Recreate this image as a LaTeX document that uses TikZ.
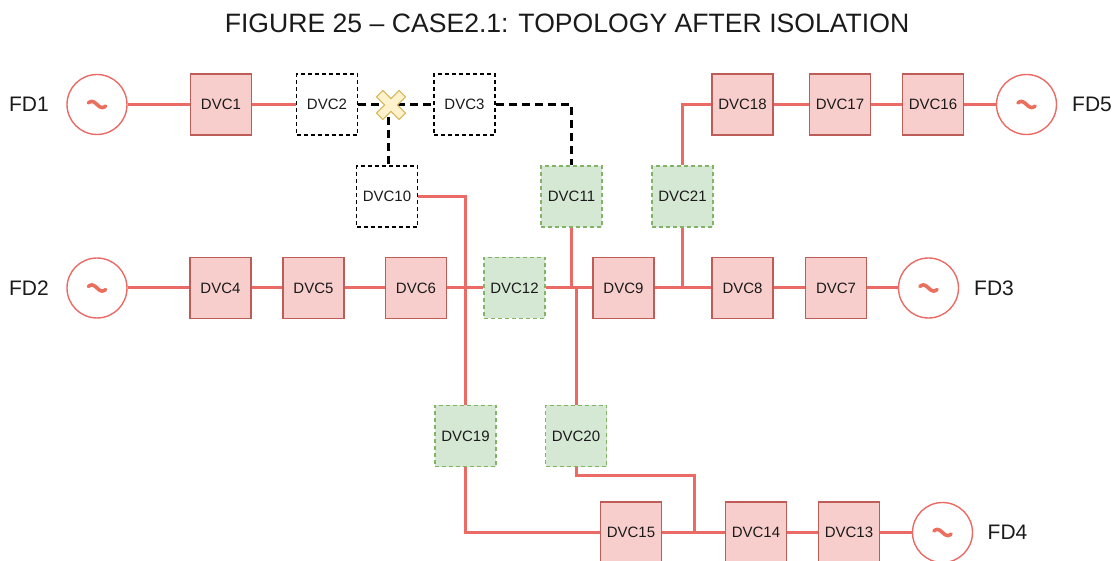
\documentclass[tikz,border=0pt]{standalone}
\usepackage{fontspec}
\setmainfont{Liberation Sans}
\definecolor{redfill}{HTML}{F8CECC}
\definecolor{redstroke}{HTML}{BE5D58}
\definecolor{wire}{HTML}{EA6B66}
\definecolor{greenfill}{HTML}{D5E8D4}
\definecolor{greenstroke}{HTML}{82B366}
\definecolor{xfill}{HTML}{FFF2CC}
\definecolor{xstroke}{HTML}{D6B656}
\definecolor{txt}{HTML}{1A1A1A}
\definecolor{tildecol}{HTML}{EC6F5E}
\tikzset{
  dvc/.style={rectangle, minimum size=61pt, inner sep=0pt, line width=1.5pt,
    font=\fontsize{15}{15}\selectfont, text=txt},
  redbox/.style={dvc, draw=redstroke, fill=redfill},
  greenbox/.style={dvc, draw=greenstroke, fill=greenfill, dash pattern=on 4pt off 3pt},
  openbox/.style={dvc, draw=black, fill=white, dash pattern=on 4pt off 3pt},
  source/.style={circle, draw=wire, fill=white, line width=1.4pt, minimum size=60pt, inner sep=0pt,
    path picture={\draw[tildecol, line width=3.6pt, line cap=round,
      shift={(path picture bounding box.center)}]
      plot[domain=-2.6:2.6, samples=30, smooth] ({\x*3.3}, {3*sin(\x r)});}},
  fdlabel/.style={font=\fontsize{21}{21}\selectfont, text=txt},
  wireline/.style={draw=wire, line width=3pt},
  openline/.style={draw=black, line width=2.6pt, dash pattern=on 8pt off 5pt},
}
\begin{document}
\begin{tikzpicture}[x=1pt,y=-1pt]
\useasboundingbox (0,0) rectangle (1120,561);
\node[font=\fontsize{26.6}{26.6}\selectfont, text=txt] (title) at (567,23) {FIGURE 25 – CASE2.1: TOPOLOGY AFTER ISOLATION};
% row 1
\node[source] (c1) at (97,104.5) {};
\node[fdlabel] (l1) at (29,104.5) {FD1};
\node[redbox] (d1) at (221,104.5) {DVC1};
\node[openbox] (d2) at (327,104.5) {DVC2};
\coordinate (X) at (388.5,104.5);
\node[openbox] (d3) at (464.5,104.5) {DVC3};
\node[openbox] (d10) at (387,196.5) {DVC10};
\node[greenbox] (d11) at (571.5,196.5) {DVC11};
\node[greenbox] (d21) at (682.5,196.5) {DVC21};
\node[redbox] (d18) at (742.5,104.5) {DVC18};
\node[redbox] (d17) at (840,104.5) {DVC17};
\node[redbox] (d16) at (933,104.5) {DVC16};
\node[source] (c5) at (1026.5,104.5) {};
\node[fdlabel] (l5) at (1092,104.5) {FD5};
% row 2
\node[source] (c2) at (97,288) {};
\node[fdlabel] (l2) at (29,288) {FD2};
\node[redbox] (d4) at (220.5,288) {DVC4};
\node[redbox] (d5) at (313.5,288) {DVC5};
\node[redbox] (d6) at (416,288) {DVC6};
\node[greenbox] (d12) at (514.5,288) {DVC12};
\node[redbox] (d9) at (623.5,288) {DVC9};
\node[redbox] (d8) at (742.5,288) {DVC8};
\node[redbox] (d7) at (836,288) {DVC7};
\node[source] (c3) at (928.5,288) {};
\node[fdlabel] (l3) at (994,288) {FD3};
% lower
\node[greenbox] (d19) at (465.5,436) {DVC19};
\node[greenbox] (d20) at (576,436) {DVC20};
\node[redbox] (d15) at (631,532.5) {DVC15};
\node[redbox] (d14) at (756,532.5) {DVC14};
\node[redbox] (d13) at (849,532.5) {DVC13};
\node[source] (c4) at (942.5,532.5) {};
\node[fdlabel] (l4) at (1007.5,532.5) {FD4};
\coordinate (j) at (694,532.5);
% live wires
\draw[wireline] (c1) -- (d1) -- (d2);
\draw[wireline] (c2) -- (d4) -- (d5) -- (d6) -- (d12) -- (d9) -- (d8) -- (d7) -- (c3);
\draw[wireline] (d10.east) -| (d19.north);
\draw[wireline] (d11.south) -- (d11.south |- d9.west);
\draw[wireline] (d20.north) -- (d20.north |- d9.west);
\draw[wireline] (d21.south) -- (d21.south |- d8.west);
\draw[wireline] (d21.north) |- (d18.west);
\draw[wireline] (d18) -- (d17) -- (d16) -- (c5);
\draw[wireline] (d19.south) |- (d15.west);
\draw[wireline] (d20.south) -- ++(0,8) -| (j);
\draw[wireline] (d15) -- (d14) -- (d13) -- (c4);
% isolated section
\draw[openline] (d2.east) -- (d3.west);
\draw[openline] (X) -- (X |- d10.north);
\draw[openline] (d3.east) -| (d11.north);
% fault mark
\draw[draw=xstroke, fill=xfill, line width=1.2pt, line join=round, shift={(391,105)}, rotate=45]
  (16,4.5) -- (4.5,4.5) -- (4.5,16) -- (-4.5,16) -- (-4.5,4.5) -- (-16,4.5) -- (-16,-4.5)
  -- (-4.5,-4.5) -- (-4.5,-16) -- (4.5,-16) -- (4.5,-4.5) -- (16,-4.5) -- cycle;
\end{tikzpicture}
\end{document}
